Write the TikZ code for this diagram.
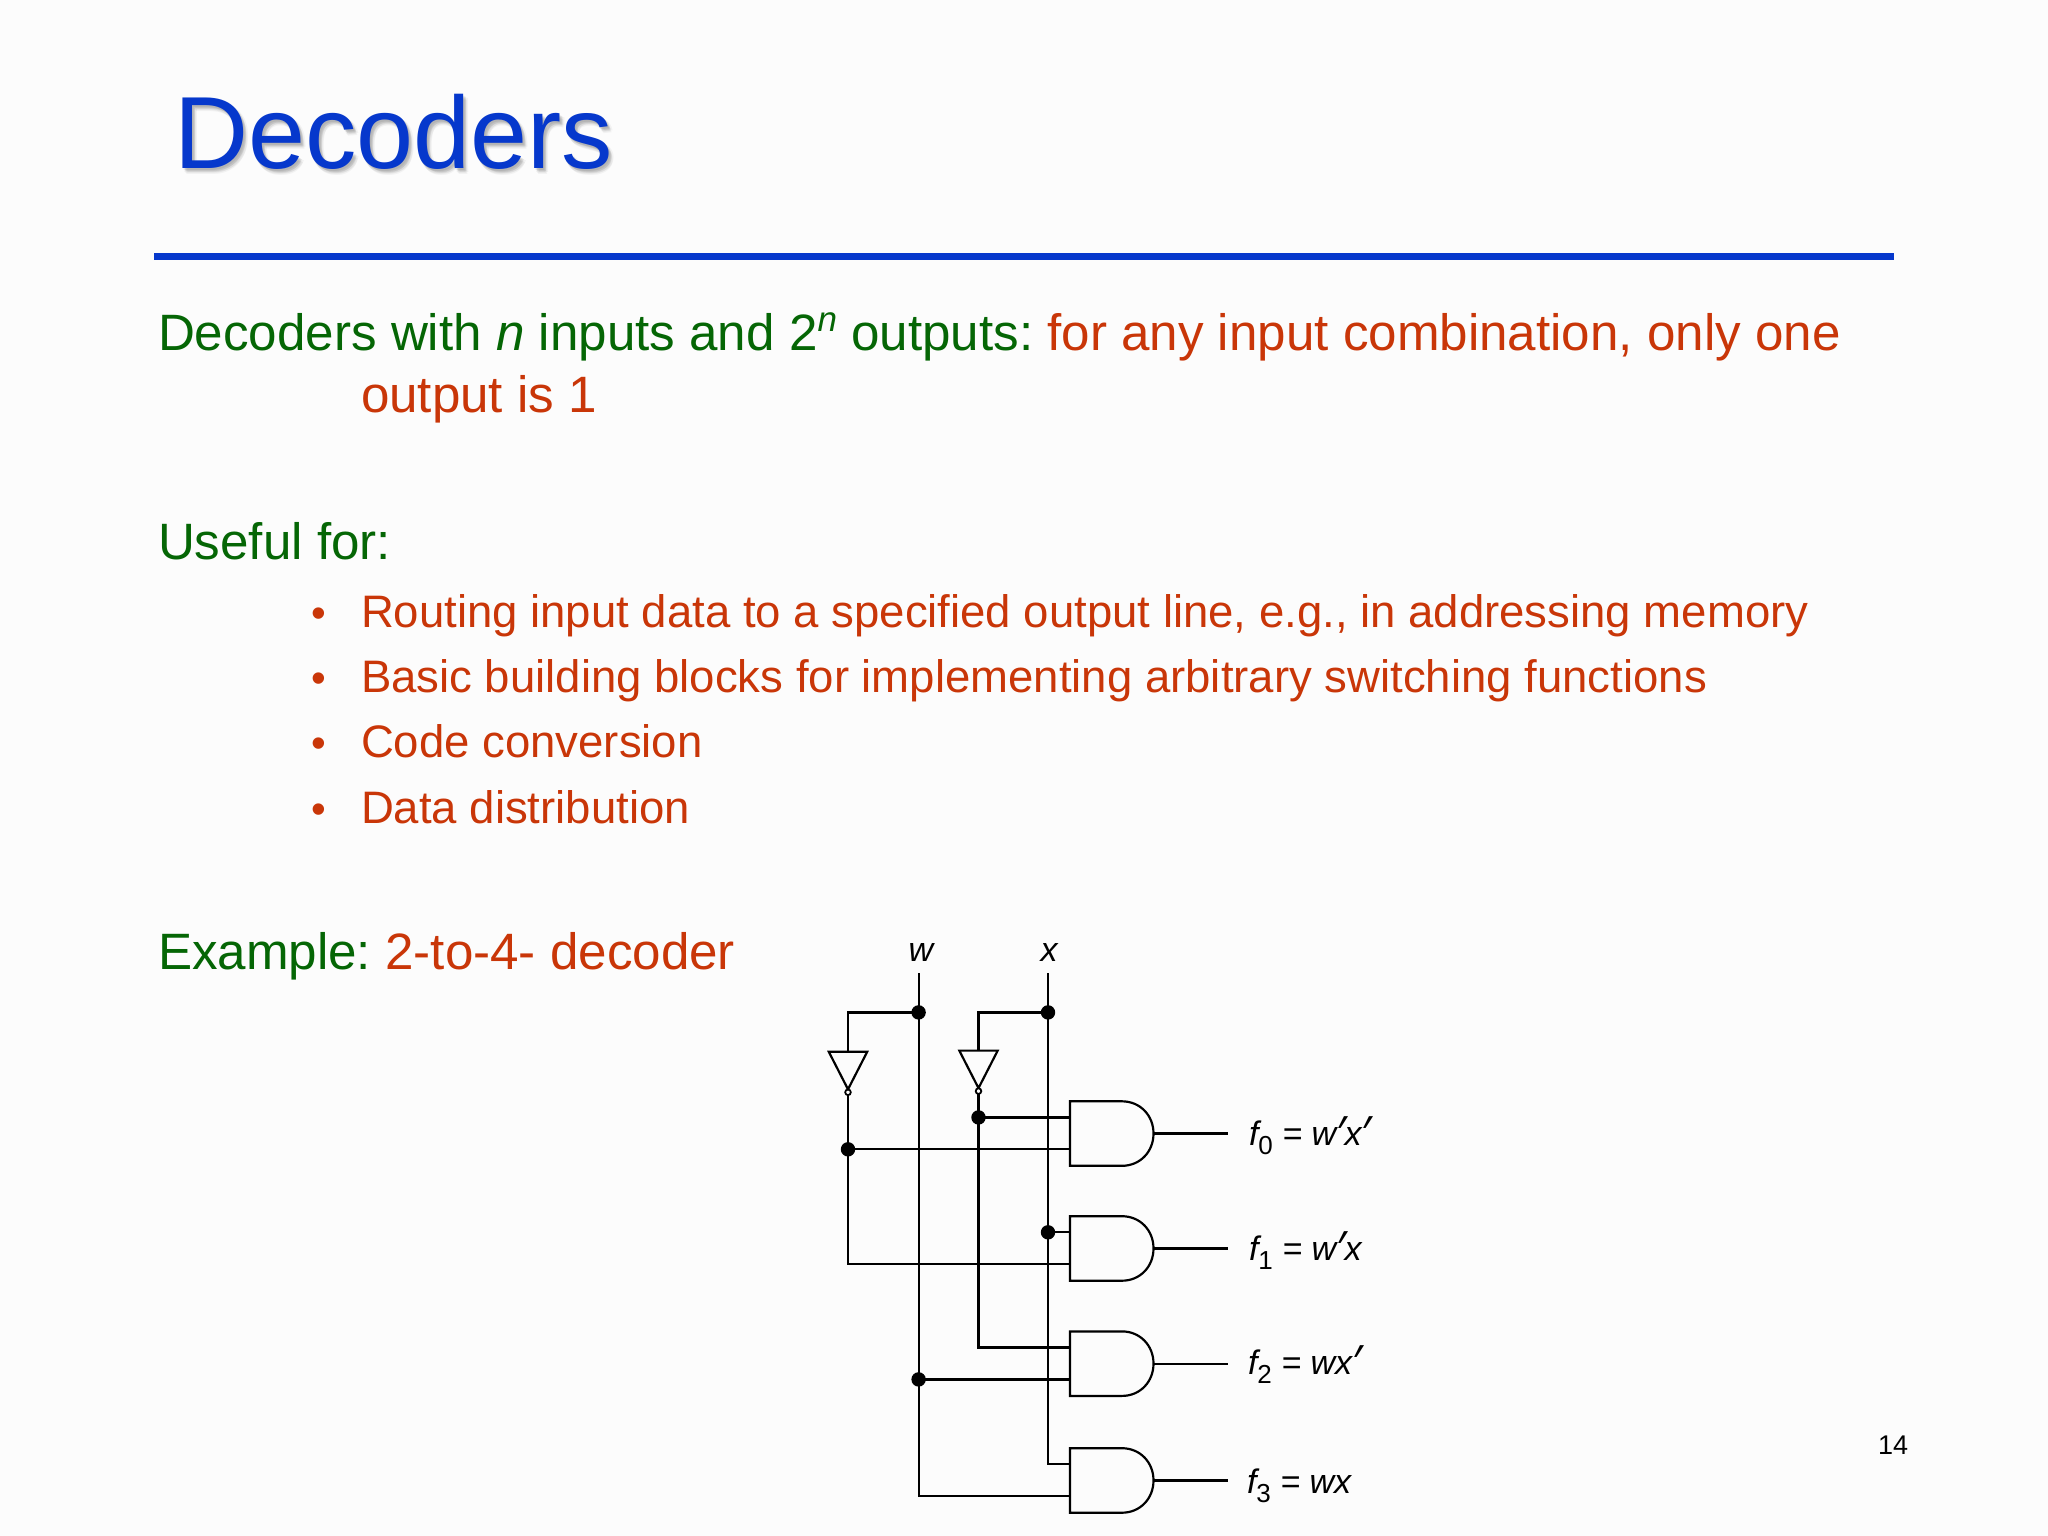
\documentclass[tikz,border=0pt]{standalone}
\usepackage{fontspec}
\setmainfont{Liberation Sans}
\newfontfamily\prmfont[ItalicFont=* Italic]{Open Sans}
\definecolor{ttl}{HTML}{0638CC}
\definecolor{grn}{HTML}{056605}
\definecolor{rd}{HTML}{C93608}
\newcommand{\fs}[1]{\fontsize{\dimexpr #1pt*2845/10000\relax}{\dimexpr #1pt*3415/10000\relax}\selectfont}
\newcommand{\sub}[1]{\raisebox{-0.28em}{\fs{26}\upshape #1}}
\newcommand{\prm}{\kern-0.02em\raisebox{-0.14em}{\prmfont\fs{46}\itshape ′}\kern-0.03em}
\newcommand{\andgate}[3]{% name, left x, top y
  \coordinate (#1-tl) at (#2,#3);
  \coordinate (#1-bl) at (#2,#3+64.5);
  \coordinate (#1-a) at (#2,#3+16.1);
  \coordinate (#1-b) at (#2,#3+48);
  \coordinate (#1-o) at (#2+83.5,#3+32.2);
  \coordinate (#1-e) at (#2+158,#3+32.2);
  \draw[wire] (#1-tl) -- (#2+52,#3)
    .. controls (#2+70,#3) and (#2+83.5,#3+14) .. (#1-o)
    .. controls (#2+83.5,#3+50.5) and (#2+70,#3+64.5) .. (#2+52,#3+64.5)
    -- (#1-bl) -- cycle;
  \draw[wire] (#1-o) -- (#1-e);
}
\newcommand{\inverter}[3]{% name, centre x, top y
  \coordinate (#1-in) at (#2,#3);
  \coordinate (#1-out) at (#2,#3+43.5);
  \draw[wire] (#2-19.2,#3) -- (#2+19.2,#3) -- (#2,#3+37.5) -- cycle;
  \node[bubble] (#1-bub) at (#2,#3+40.5) {};
}
\tikzset{
  wire/.style={line width=0.62pt,black,line join=miter},
  dot/.style={circle,fill=black,draw=none,inner sep=0pt,minimum size=4.1pt},
  bubble/.style={circle,fill=white,draw=black,line width=0.5pt,inner sep=0pt,minimum size=1.6pt},
  txt/.style={anchor=base west,inner sep=0pt,outer sep=0pt},
  body/.style={txt,font=\fs{51.12}\frenchspacing},
  item/.style={txt,font=\fs{45.5}\frenchspacing,text=rd},
  bul/.style={txt,font=\fs{42},text=rd},
  eqn/.style={txt,font=\fs{34}\itshape},
}
\begin{document}
\begin{tikzpicture}[x=0.01cm,y=-0.01cm]
\useasboundingbox (0,0) rectangle (2048,1536);
\fill[white!99!black] (0,0) rectangle (2048,1536);
% title
\foreach \dx/\dy [count=\n] in {1/2,2/4,3/3,3/5,5/4,3/3,2/2,4/6}
  \node[txt,font=\fs{102.5},text=black,opacity=0.04] (ts\n) at (174+\dx,168+\dy) {Decoders};
\node[txt,font=\fs{102.5},text=ttl] (title) at (174,168) {Decoders};
\fill[ttl] (153.5,253) rectangle (1894,259.5);
% text
\node[body,text=grn] (l1) at (158,350) {Decoders with \textit{n} inputs and 2\raisebox{0.36em}{\fs{35}\textit{n}} outputs: \textcolor{rd}{for any input combination, only one}};
\node[body,text=rd] (l2) at (361,412) {output is 1};
\node[body,text=grn] (l3) at (158,559) {Useful for:};
\node[bul] (b1) at (311,627) {•};
\node[item] (i1) at (361,627) {Routing input data to a specified output line, e.g., in addressing memory};
\node[bul] (b2) at (311,692.3) {•};
\node[item] (i2) at (361,692.3) {Basic building blocks for implementing arbitrary switching functions};
\node[bul] (b3) at (311,757.7) {•};
\node[item] (i3) at (361,757.7) {Code conversion};
\node[bul] (b4) at (311,823) {•};
\node[item] (i4) at (361,823) {Data distribution};
\node[body,text=grn] (l4) at (158,969) {Example: \textcolor{rd}{2-to-4- decoder}};
\node[txt,font=\fs{27}] (pg) at (1878,1454) {14};
% circuit
\coordinate (wtop) at (918.6,973);
\coordinate (xtop) at (1048,973);
\node[txt,anchor=base,font=\fs{34}\itshape] (wl) at (921,961.3) {w};
\node[txt,anchor=base,font=\fs{34}\itshape] (xl) at (1049,961.3) {x};
\andgate{g0}{1070}{1101.3}
\andgate{g1}{1070}{1216.2}
\andgate{g2}{1070}{1331.4}
\andgate{g3}{1070}{1448.2}
\inverter{ia}{848}{1051.8}
\inverter{ib}{978.5}{1050.6}
\node[dot] (jw1) at (918.6,1012.4) {};
\node[dot] (jx1) at (1048,1012.4) {};
\node[dot] (jb) at (978.5,1117.4) {};
\node[dot] (ja) at (848,1149.3) {};
\node[dot] (jx2) at (1048,1232.3) {};
\node[dot] (jw2) at (918.6,1379.4) {};
\draw[wire] (wtop) |- (g3-b);
\draw[wire] (xtop) |- (g3-a);
\draw[wire] (jw1.center) -| (ia-in);
\draw[wire] (jx1.center) -| (ib-in);
\draw[wire] (ia-out) |- (g1-b);
\draw[wire] (ib-out) |- (g2-a);
\draw[wire] (jb.center) -- (g0-a);
\draw[wire] (ja.center) -- (g0-b);
\draw[wire] (jx2.center) -- (g1-a);
\draw[wire] (jw2.center) -- (g2-b);
\node[eqn] (e0) at (1249,1145) {f\sub{0} = w\prm x\prm};
\node[eqn] (e1) at (1249,1260) {f\sub{1} = w\prm x};
\node[eqn] (e2) at (1248,1374) {f\sub{2} = wx\prm};
\node[eqn] (e3) at (1247,1493.4) {f\sub{3} = wx};
\end{tikzpicture}
\end{document}
